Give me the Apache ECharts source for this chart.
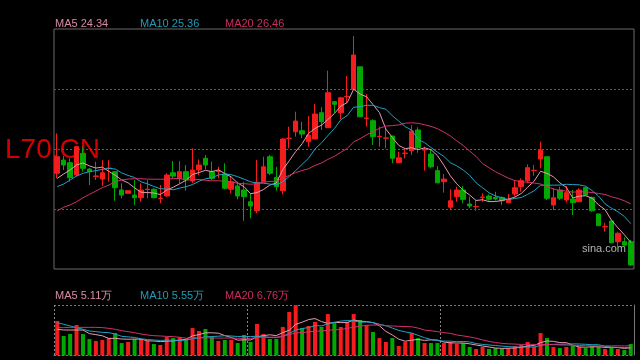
<!DOCTYPE html>
<html><head><meta charset="utf-8">
<script src="https://cdn.jsdelivr.net/npm/echarts@6/dist/echarts.min.js"></script>
<style>html,body{margin:0;padding:0;background:#000;}#c{width:640px;height:360px;}</style>
</head><body><div id="c"></div>
<script>
// ---- data ----
const opens = [28.14,28.89,28.74,28.04,29.27,28.38,27.96,27.81,28.41,28.23, 27.19,27.00,26.90,26.75,27.22,27.23,26.71,26.85,28.17,27.85, 28.23,27.70,28.33,28.99,28.23,28.25,28.10,27.23,27.42,27.19, 26.52,26.01,27.66,29.08,27.91,27.15,30.12,30.50,30.56,29.93, 30.09,31.58,30.73,32.21,31.58,32.49,32.91,34.19,31.26,31.13, 30.22,30.13,30.26,28.74,29.27,29.42,30.60,29.46,29.23,28.29, 27.66,26.21,26.81,27.19,26.39,26.24,26.77,26.85,26.77,26.77, 26.47,26.96,27.38,27.72,28.29,28.95,29.08,26.34,27.19,26.62, 26.68,26.52,27.32,26.77,25.83,25.10,25.43,24.25,24.25,24.25];
const closes = [29.08,28.61,27.89,29.65,28.42,28.23,27.99,28.17,28.44,27.32, 26.90,27.15,26.75,27.19,27.24,26.75,26.72,28.04,27.98,28.23, 27.76,28.33,28.61,28.61,27.85,28.27,27.29,27.66,26.85,26.81, 26.28,27.63,28.51,28.14,27.38,30.09,30.14,31.11,30.37,30.31, 31.51,31.07,32.72,32.06,32.43,32.51,34.86,31.35,31.28,30.22, 30.24,30.15,28.99,29.02,29.29,30.54,29.59,29.48,28.51,27.60, 27.81,26.58,27.19,26.66,26.28,26.26,26.79,26.66,26.68,26.58, 26.66,27.32,27.72,28.46,28.31,29.46,26.72,26.75,26.72,27.04, 26.47,27.19,26.90,26.01,25.16,25.12,24.19,24.73,24.06,22.93];
const lows = [27.85,28.33,27.66,27.98,28.23,27.47,27.76,27.42,27.66,26.58, 26.72,26.96,26.34,26.52,26.72,26.73,26.43,26.81,27.85,27.57, 27.15,27.57,28.04,28.36,27.76,27.85,27.23,27.00,26.66,25.44, 25.58,25.86,27.66,28.04,27.15,26.94,29.56,30.22,30.13,29.65, 30.07,30.60,30.73,31.58,31.21,32.15,32.91,31.35,30.79,29.75, 29.65,29.56,28.71,28.71,28.99,29.18,29.31,28.29,28.42,27.57, 27.04,26.09,26.52,26.43,26.15,26.01,26.52,26.58,26.58,26.34, 26.43,26.81,27.09,27.57,28.00,28.42,26.62,26.05,26.62,26.47, 25.77,26.52,26.90,25.96,25.16,24.82,24.19,23.97,23.97,22.87];
const highs = [30.41,29.12,28.99,29.69,29.65,28.44,28.80,28.89,28.89,28.27, 27.57,27.19,27.76,27.57,27.76,27.30,27.47,28.14,28.84,28.84, 28.61,29.56,28.93,29.18,28.80,28.51,28.71,27.94,27.66,27.66, 27.00,28.89,29.08,29.18,28.51,30.13,30.79,31.64,31.07,31.39, 32.08,31.89,33.97,32.25,32.49,33.67,35.94,34.19,32.64,31.21, 30.79,30.69,30.26,29.36,29.56,30.88,30.75,29.65,29.46,28.55, 28.10,27.23,27.38,27.42,26.81,26.62,27.00,26.94,27.09,26.81, 26.96,27.76,27.85,28.65,28.61,29.93,29.08,27.29,27.38,27.42, 27.19,27.29,27.38,26.81,25.83,25.33,25.43,24.82,24.50,24.35];
// volume, in 万
const volumes = [24.5,13.7,15.1,21.6,15.1,11.5,10.1,10.8,12.2,15.8, 8.6,9.4,11.5,11.5,10.1,7.9,7.2,13.0,12.2,13.0, 11.5,19.4,17.3,18.7,13.0,10.1,10.8,10.8,8.6,14.4, 9.4,22.3,15.1,11.5,11.5,20.2,31.0,36.0,19.4,20.9, 23.8,20.2,29.5,23.0,20.2,23.8,29.5,25.2,21.6,16.6, 12.2,9.4,12.2,6.5,9.4,15.8,12.2,8.6,8.6,8.6, 8.6,9.4,7.9,8.6,5.8,4.3,5.8,4.3,5.0,4.3, 5.0,6.5,7.2,9.4,5.8,15.8,12.2,5.8,5.0,5.8, 6.5,5.8,5.0,6.5,5.8,4.3,5.8,4.3,3.6,7.9];
// moving-average values at the left edge (earlier days are not shown)
const ma5Head = [27.85,28.10,28.33,28.61];
const ma10Head = [27.38,27.53,27.76,27.98,28.14,28.23,28.29,28.36,28.42];
const ma20Head = [26.00,26.21,26.34,26.52,26.75,26.94,27.13,27.32,27.47,27.66,27.76,27.81,27.83,27.83,27.81,27.80,27.80,27.80,27.85];
const vma5Head = [18.5,18.0,18.0,18.0];
const vma10Head = [23.3,22.1,20.9,19.7,18.5,17.3,16.8,16.3,16.1];
const vma20Head = [19.7,19.7,19.9,19.9,19.9,19.9,19.9,19.7,19.2,18.5,17.5,16.8,16.1,15.1,14.4,13.9,13.7,13.4,13.2];
const priceLegend = ['MA5 24.34','MA10 25.36','MA20 26.46'];
const volLegend = ['MA5 5.11万','MA10 5.55万','MA20 6.76万'];
const days = opens.map((_, i) => 'D' + (i + 1));

const UP = '#f41c1c', DOWN = '#00a800';
const C5 = '#e79bb2', C10 = '#1fa3c3', C20 = '#d2316a';

function ma(head, vals, n) {
  return vals.map((v, i) => {
    if (i < n - 1) return head[i];
    let s = 0;
    for (let k = i - n + 1; k <= i; k++) s += vals[k];
    return +(s / n).toFixed(3);
  });
}

const candle = opens.map((o, i) => [o, closes[i], lows[i], highs[i]]);
const volData = volumes.map((v, i) => ({ value: v, itemStyle: { color: closes[i] >= opens[i] ? UP : DOWN } }));

const chart = echarts.init(document.getElementById('c'), null, { renderer: 'canvas' });
const lineS = (name, data, color, xi, yi) => ({
  name, type: 'line', data, xAxisIndex: xi, yAxisIndex: yi, symbol: 'none', showSymbol: false,
  lineStyle: { color, width: 1 }, itemStyle: { color }, z: 3, silent: true
});
const txt = (x, y, text, fill, size) => ({
  type: 'text', x, y, silent: true,
  style: { text, fill, font: size + 'px "Liberation Sans", Arial, sans-serif', textVerticalAlign: 'middle' }
});

chart.setOption({
  animation: false,
  backgroundColor: '#000',
  grid: [
    { left: 54, top: 29, width: 580, height: 240, show: true, borderColor: '#6a6a6a', borderWidth: 1, backgroundColor: 'transparent' },
    { left: 54, top: 305, width: 580, height: 50 }
  ],
  xAxis: [
    { type: 'category', gridIndex: 0, data: days, boundaryGap: true, show: false },
    { type: 'category', gridIndex: 1, data: days, boundaryGap: true,
      axisLine: { show: true, lineStyle: { color: '#777', type: [2, 2] } },
      axisTick: { show: false }, axisLabel: { show: false },
      splitLine: { show: true, interval: (i) => i === 0 || i === 30 || i === 60, lineStyle: { color: '#888', type: [2, 2] } } }
  ],
  yAxis: [
    { gridIndex: 0, type: 'value', min: 22.7, max: 36.34, show: false },
    { gridIndex: 0, type: 'value', min: 0, max: 4, interval: 1,
      axisLine: { show: false }, axisTick: { show: false }, axisLabel: { show: false },
      splitLine: { show: true, showMinLine: false, showMaxLine: false, lineStyle: { color: '#5c5c5c', type: [2, 2] } } },
    { gridIndex: 1, type: 'value', min: 0, max: 36, interval: 36,
      axisLine: { show: false }, axisTick: { show: false }, axisLabel: { show: false },
      splitLine: { show: true, lineStyle: { color: '#777', type: [2, 2] } } },
    { gridIndex: 1, type: 'value', position: 'right', min: 0, max: 36,
      axisLine: { show: true, lineStyle: { color: '#777' } }, axisTick: { show: false }, axisLabel: { show: false },
      splitLine: { show: false } }
  ],
  series: [
    { type: 'candlestick', data: candle, xAxisIndex: 0, yAxisIndex: 0, barWidth: 5, silent: true,
      itemStyle: { color: UP, color0: DOWN, borderColor: UP, borderColor0: DOWN, borderWidth: 1 } },
    lineS('MA5', ma(ma5Head, closes, 5), C5, 0, 0),
    lineS('MA10', ma(ma10Head, closes, 10), C10, 0, 0),
    lineS('MA20', ma(ma20Head, closes, 20), C20, 0, 0),
    { type: 'bar', data: volData, xAxisIndex: 1, yAxisIndex: 2, barWidth: 4, silent: true },
    lineS('VMA5', ma(vma5Head, volumes, 5), C5, 1, 2),
    lineS('VMA10', ma(vma10Head, volumes, 10), C10, 1, 2),
    lineS('VMA20', ma(vma20Head, volumes, 20), C20, 1, 2)
  ],
  graphic: [
    Object.assign(txt(5, 150, 'L70.CN', '#d40000', 28), { z: -10 }),
    txt(55, 24, priceLegend[0], '#d98aa3', 11),
    txt(140, 24, priceLegend[1], '#1f9cb8', 11),
    txt(225, 24, priceLegend[2], '#cc2c60', 11),
    txt(55, 296, volLegend[0], '#d98aa3', 11),
    txt(140, 296, volLegend[1], '#1f9cb8', 11),
    txt(225, 296, volLegend[2], '#cc2c60', 11),
    txt(582, 249, 'sina.com', '#b4b4b4', 11)
  ]
});
</script>
</body></html>
